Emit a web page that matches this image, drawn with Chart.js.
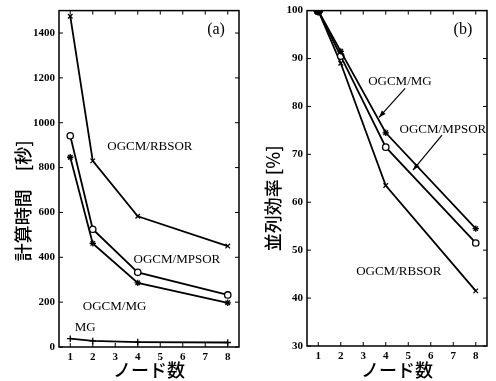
<!DOCTYPE html>
<html>
<head>
<meta charset="utf-8">
<script src="https://cdn.jsdelivr.net/npm/chart.js@4.4.1/dist/chart.umd.min.js"></script>
<style>
  body { margin: 0; background: #fff; }
  #wrap { position: relative; width: 496px; height: 381px; }
  canvas { position: absolute; top: 0; }
</style>
</head>
<body>
<div id="wrap">
  <canvas id="chartA" width="248" height="381" style="left:0"></canvas>
  <canvas id="chartB" width="248" height="381" style="left:248px"></canvas>
</div>
<script>
// data
const nodes = [1, 2, 4, 8];
const xTicks = [1, 2, 3, 4, 5, 6, 7, 8];

// (a) computation time [s]
const timeRBSOR = [1475, 830, 583, 450];
const timeMPSOR = [942, 525, 333, 232];
const timeOgcmMG = [846, 462, 286, 197];
const timeMG = [37, 27, 22, 20];
const yTicksA = [0, 200, 400, 600, 800, 1000, 1200, 1400];

// (b) parallel efficiency [%]
const effOgcmMG = [100, 91.5, 74.5, 54.5];
const effMPSOR = [100, 90.5, 71.5, 51.5];
const effRBSOR = [100, 89, 63.5, 41.5];
const yTicksB = [30, 40, 50, 60, 70, 80, 90, 100];

const serif = "'Liberation Serif', 'Times New Roman', serif";
const jp = "'Noto Sans CJK JP', sans-serif";

function pts(values) {
  return nodes.map((n, i) => ({ x: n, y: values[i] }));
}

function series(values, style, firstDot) {
  const styles = values.map((v, i) => (firstDot && i === 0 ? "circle" : style));
  const fills = values.map((v, i) => (firstDot && i === 0 ? "#000" : "#fff"));
  const radii = values.map((v, i) => (firstDot && i === 0 ? 4 : 3.2));
  return {
    data: pts(values),
    borderColor: "#000",
    borderWidth: 1.8,
    pointStyle: styles,
    pointRadius: radii,
    pointBackgroundColor: fills,
    pointBorderColor: "#000",
    pointBorderWidth: 1.3,
    tension: 0,
  };
}

// frame, inward ticks, labels and arrows
const notesPlugin = {
  id: "notes",
  afterDatasetsDraw(chart, args, opts) {
    const { ctx, chartArea: a, scales: { x, y } } = chart;
    ctx.save();
    ctx.strokeStyle = "#000";
    ctx.lineWidth = 1.5;
    ctx.strokeRect(a.left, a.top, a.right - a.left, a.bottom - a.top);

    ctx.lineWidth = 1;
    ctx.beginPath();
    x.ticks.forEach((t) => {
      const px = x.getPixelForValue(t.value);
      ctx.moveTo(px, a.bottom); ctx.lineTo(px, a.bottom - 4);
      ctx.moveTo(px, a.top); ctx.lineTo(px, a.top + 4);
    });
    y.ticks.forEach((t) => {
      const py = y.getPixelForValue(t.value);
      ctx.moveTo(a.left, py); ctx.lineTo(a.left + 4, py);
      ctx.moveTo(a.right, py); ctx.lineTo(a.right - 4, py);
    });
    ctx.stroke();

    ctx.fillStyle = "#000";
    ctx.textAlign = "center";
    ctx.textBaseline = "middle";
    (opts.texts || []).forEach((t) => {
      ctx.font = (t.size || 13) + "px " + serif;
      ctx.fillText(t.text, x.getPixelForValue(t.x), y.getPixelForValue(t.y));
    });

    (opts.arrows || []).forEach((ar) => {
      const x0 = x.getPixelForValue(ar.from[0]), y0 = y.getPixelForValue(ar.from[1]);
      const x1 = x.getPixelForValue(ar.to[0]), y1 = y.getPixelForValue(ar.to[1]);
      const ang = Math.atan2(y1 - y0, x1 - x0);
      ctx.lineWidth = 1.2;
      ctx.beginPath();
      ctx.moveTo(x0, y0);
      ctx.lineTo(x1, y1);
      ctx.stroke();
      ctx.beginPath();
      ctx.moveTo(x1, y1);
      ctx.lineTo(x1 - 7 * Math.cos(ang) + 2.5 * Math.sin(ang), y1 - 7 * Math.sin(ang) - 2.5 * Math.cos(ang));
      ctx.lineTo(x1 - 7 * Math.cos(ang) - 2.5 * Math.sin(ang), y1 - 7 * Math.sin(ang) + 2.5 * Math.cos(ang));
      ctx.closePath();
      ctx.fill();
    });
    ctx.restore();
  },
};

function makeChart(id, datasets, yMin, yMax, yTicks, yTitle, titlePad, xHeight, notes) {
  return new Chart(document.getElementById(id), {
    type: "line",
    data: { datasets },
    plugins: [notesPlugin],
    options: {
      responsive: false,
      animation: false,
      layout: { padding: { left: 0, right: 9, top: 10, bottom: 0 } },
      plugins: { legend: { display: false }, tooltip: { enabled: false }, notes },
      scales: {
        x: {
          type: "linear",
          min: 0.5,
          max: 8.5,
          afterBuildTicks: (s) => { s.ticks = xTicks.map((v) => ({ value: v })); },
          afterFit: (s) => { s.height = xHeight; },
          grid: { display: false, drawTicks: false },
          border: { display: false },
          ticks: {
            color: "#000",
            padding: 4,
            font: { family: serif, size: 11, weight: "bold" },
            callback: (v) => String(v),
          },
          title: {
            display: true,
            text: "ノード数",
            color: "#000",
            padding: { top: 0, bottom: 0 },
            font: { family: jp, size: 18, weight: 500 },
          },
        },
        y: {
          min: yMin,
          max: yMax,
          afterBuildTicks: (s) => { s.ticks = yTicks.map((v) => ({ value: v })); },
          afterFit: (s) => { s.width = 59; },
          grid: { display: false, drawTicks: false },
          border: { display: false },
          ticks: {
            color: "#000",
            padding: 4,
            font: { family: serif, size: 11, weight: "bold" },
            callback: (v) => String(v),
          },
          title: {
            display: true,
            text: yTitle,
            color: "#000",
            padding: { top: titlePad, bottom: 0 },
            font: { family: jp, size: 18, weight: 500 },
          },
        },
      },
    },
  });
}

makeChart(
  "chartA",
  [
    series(timeRBSOR, "crossRot"),
    series(timeMPSOR, "circle"),
    series(timeOgcmMG, "star"),
    series(timeMG, "cross"),
  ],
  0, 1500, yTicksA,
  "計算時間　[秒]　　  ", 12, 34,
  {
    texts: [
      { text: "(a)", x: 7.48, y: 1415, size: 16 },
      { text: "OGCM/RBSOR", x: 4.54, y: 895 },
      { text: "OGCM/MPSOR", x: 5.74, y: 392 },
      { text: "OGCM/MG", x: 2.97, y: 182 },
      { text: "MG", x: 1.66, y: 85 },
    ],
  }
);

makeChart(
  "chartB",
  [
    series(effOgcmMG, "star", true),
    series(effMPSOR, "circle", true),
    series(effRBSOR, "crossRot", true),
  ],
  30, 100, yTicksB,
  "並列効率 [%]　　 ", 14, 35,
  {
    texts: [
      { text: "(b)", x: 7.43, y: 96, size: 16 },
      { text: "OGCM/MG", x: 4.63, y: 85.2 },
      { text: "OGCM/MPSOR", x: 6.54, y: 75.2 },
      { text: "OGCM/RBSOR", x: 4.58, y: 45.6 },
    ],
    arrows: [
      { from: [4.86, 83.75], to: [3.7, 77.7] },
      { from: [6.5, 74], to: [5.21, 66.7] },
    ],
  }
);
</script>
</body>
</html>
